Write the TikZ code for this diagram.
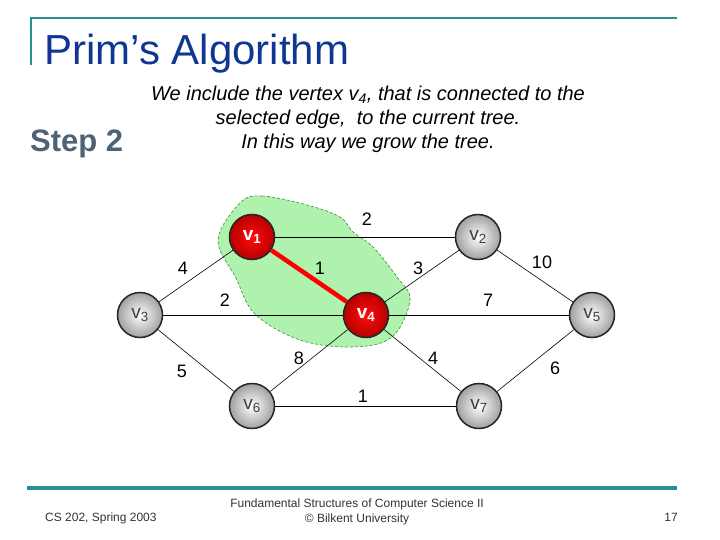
\documentclass[tikz,border=0pt]{standalone}
\usepackage{fontspec}
\setmainfont{Liberation Sans}
\definecolor{teal1}{HTML}{2A9090}
\definecolor{titleblue}{HTML}{0F3690}
\definecolor{stepgray}{HTML}{4F6273}
\definecolor{blobfill}{HTML}{AEF2AE}
\definecolor{blobline}{HTML}{3C8C3C}
\definecolor{nodegray}{HTML}{A0A0A0}
\definecolor{labgray}{HTML}{404040}
\tikzset{
  vtx/.style={circle, minimum size=45pt, inner sep=0pt, draw=black!85, line width=1.5pt,
    shading=radial, inner color=white, outer color=nodegray, text=labgray, font=\fontsize{19}{19}\selectfont},
  rvtx/.style={vtx, inner color=red!95!white, outer color=red!72!black, text=white, font=\bfseries\fontsize{19}{19}\selectfont},
  edge/.style={line width=0.6pt, black},
  wt/.style={font=\fontsize{18}{18}\selectfont, inner sep=0pt},
  foot/.style={font=\fontsize{12}{14}\selectfont, text=black!80, align=center, inner sep=0pt}
}
\newcommand{\vs}[1]{\raisebox{-2pt}{v\textsubscript{#1}}}
\begin{document}
\begin{tikzpicture}[x=1pt,y=-1pt]
\useasboundingbox (0,0) rectangle (720,540);
% frame lines
\draw[teal1, line width=2.5pt] (30,18) -- (677,18);
\draw[teal1, line width=2.5pt] (31,17) -- (31,65);
\draw[teal1, line width=4pt] (27,488) -- (677,488);
% title
\node[anchor=base west, inner sep=0pt, text=titleblue, font=\fontsize{42}{42}\selectfont] (title) at (44,65) {Prim’s Algorithm};
% step
\node[anchor=base west, inner sep=0pt, text=stepgray, font=\bfseries\fontsize{31}{31}\selectfont] (step2) at (30,152) {Step 2};
% description
\node[align=center, inner sep=0pt, font=\itshape\fontsize{20}{24}\selectfont] (desc) at (368,119)
 {We include the vertex v\textsubscript{4}, that is connected to the\\ selected edge,\ \ to the current tree.\\ In this way we grow the tree.};
% blob
\draw[blobline, line width=0.6pt, fill=blobfill, dash pattern=on 3pt off 2pt]
  plot[smooth cycle, tension=0.6] coordinates {(240,203) (262,196) (307,205) (340,217) (353,232) (373,247) (397,277) (410,300) (392,337) (353,347) (300,340) (255,314) (236,278) (218,240)};
% nodes
\node[rvtx] (v1) at (252,237) {\vs{1}};
\node[vtx]  (v2) at (478,237) {\vs{2}};
\node[vtx]  (v3) at (140,315) {\vs{3}};
\node[rvtx] (v4) at (366,315) {\vs{4}};
\node[vtx]  (v5) at (592,315) {\vs{5}};
\node[vtx]  (v6) at (252,406) {\vs{6}};
\node[vtx]  (v7) at (479,406) {\vs{7}};
% edges
\draw[edge] (v1) -- (v2);
\draw[edge] (v1) -- (v3);
\draw[red, line width=4.5pt] (v1) -- (v4);
\draw[edge] (v2) -- (v4);
\draw[edge] (v2) -- (v5);
\draw[edge] (v3) -- (v4);
\draw[edge] (v4) -- (v5);
\draw[edge] (v3) -- (v6);
\draw[edge] (v4) -- (v6);
\draw[edge] (v4) -- (v7);
\draw[edge] (v5) -- (v7);
\draw[edge] (v6) -- (v7);
% weights
\node[wt] (w12) at (367,219) {2};
\node[wt] (w13) at (183,268) {4};
\node[wt] (w14) at (320,268) {1};
\node[wt] (w24) at (418,268) {3};
\node[wt] (w25) at (542,262) {10};
\node[wt] (w34) at (225,300) {2};
\node[wt] (w45) at (488,300) {7};
\node[wt] (w36) at (182,371) {5};
\node[wt] (w46) at (299,358) {8};
\node[wt] (w47) at (433,358) {4};
\node[wt] (w57) at (555,368) {6};
\node[wt] (w67) at (363,396) {1};
% footer
\node[foot, anchor=base west] (f1) at (45,521) {CS 202, Spring 2003};
\node[foot, anchor=base] (f2) at (357,507) {Fundamental Structures of Computer Science II};
\node[foot, anchor=base] (f3) at (357,522) {© Bilkent University};
\node[foot, anchor=base east] (f4) at (678,521) {17};
\end{tikzpicture}
\end{document}
